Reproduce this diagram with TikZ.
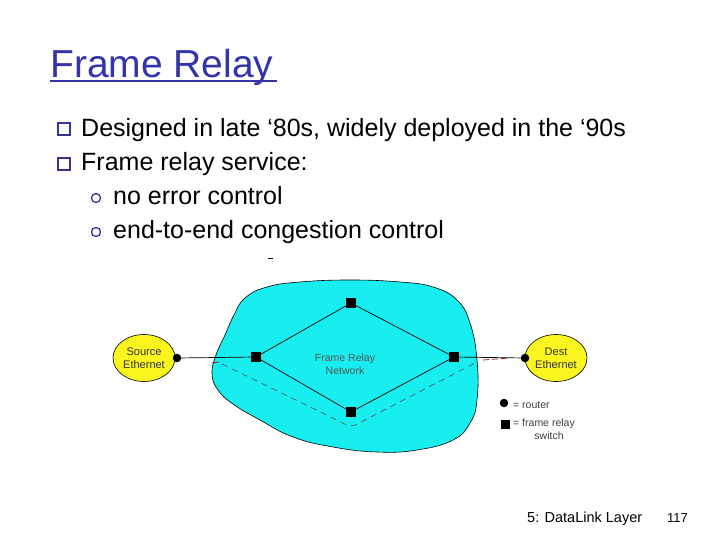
\documentclass[tikz,border=0pt]{standalone}
\usepackage{fontspec}
\setmainfont{Liberation Sans}
\usetikzlibrary{shapes.geometric}
\definecolor{titleblue}{RGB}{51,51,170}
\definecolor{bulletblue}{RGB}{51,51,153}
\definecolor{netcyan}{RGB}{24,238,240}
\definecolor{ethyellow}{RGB}{250,245,30}
\definecolor{labelgray}{RGB}{85,85,85}
\definecolor{vcred}{RGB}{150,30,30}
\tikzset{
  slidetext/.style={anchor=base west, inner sep=0pt, font=\fontsize{25}{28}\selectfont},
  sqbullet/.style={draw=bulletblue, line width=2pt, minimum size=12pt, inner sep=0pt},
  circbullet/.style={circle, draw=bulletblue, line width=1.3pt, minimum size=9pt, inner sep=0pt},
  ether/.style={ellipse, draw=black, line width=0.6pt, fill=ethyellow, minimum width=62pt, minimum height=47pt, inner sep=0pt, align=center, text=black!80, font=\fontsize{11}{13}\selectfont},
  router/.style={circle, fill=black, minimum size=8.5pt, inner sep=0pt},
  fswitch/.style={rectangle, fill=black, minimum size=10pt, inner sep=0pt},
  link/.style={draw=black, line width=0.7pt},
  vc/.style={draw=black!70, line width=0.6pt, dash pattern=on 6pt off 5pt},
  legendtext/.style={anchor=west, inner sep=0pt, text=black!75, font=\fontsize{10.5}{12}\selectfont},
}
\begin{document}
\begin{tikzpicture}[x=1pt,y=-1pt]
\useasboundingbox (0,0) rectangle (720,540);
% title
\node[anchor=base west, inner sep=0pt, text=titleblue, font=\fontsize{39}{44}\selectfont] (title) at (50,78) {Frame Relay};
\draw[titleblue, line width=2pt] (50,81) -- (277,81);
% bullets
\node[sqbullet] (b1) at (64,129) {};
\node[slidetext] (t1) at (81,137) {Designed in late ‘80s, widely deployed in the ‘90s};
\node[sqbullet] (b2) at (64,164) {};
\node[slidetext] (t2) at (81,171) {Frame relay service:};
\node[circbullet] (c1) at (96,198) {};
\node[slidetext] (t3) at (113,205) {no error control};
\node[circbullet] (c2) at (96,232) {};
\node[slidetext] (t4) at (113,239) {end-to-end congestion control};
% tiny mark
\draw[black, line width=0.8pt] (268,258) -- (273,258);
% network cloud
\draw[fill=netcyan, draw=black, line width=0.6pt] plot[smooth cycle, tension=0.75] coordinates {
 (245,298) (267,287) (300,282) (350,280) (400,282) (433,287) (457,300) (470,323)
 (477,360) (477,400) (470,423) (453,440) (417,450) (377,452) (333,447) (293,437)
 (260,420) (233,404) (218,390) (212,374) (216,355) (225,335) (234,315)};
\node[align=center, text=labelgray, inner sep=0pt, font=\fontsize{10.5}{13}\selectfont] (netlabel) at (345,364) {Frame Relay\\Network};
% ethernets
\node[ether] (src) at (144,358) {Source\\Ethernet};
\node[ether] (dst) at (556,358) {Dest\\Ethernet};
\node[router] (rsrc) at (177,358) {};
\node[router] (rdst) at (525,358) {};
% switches
\node[fswitch] (sL) at (256,357) {};
\node[fswitch] (sT) at (351,303) {};
\node[fswitch] (sR) at (454,357) {};
\node[fswitch] (sB) at (351,412) {};
% links
\draw[link] (rsrc) -- (sL);
\draw[link] (sL) -- (sT) -- (sR) -- (sB) -- (sL);
\draw[link] (sR) -- (rdst);
% virtual circuit
\coordinate (vA) at (222,364);
\coordinate (vB) at (341,422);
\coordinate (vC) at (361,422);
\coordinate (vD) at (477,362);
\draw[vc] (vA) -- (vB) .. controls (349,427) and (354,427) .. (vC) -- (vD);
\draw[vcred, line width=0.8pt] (212,363) -- (219,362);
\draw[vcred, line width=0.8pt, dash pattern=on 6pt off 3pt] (483,360) -- (509,358);
% legend
\node[router] (lr) at (504,403) {};
\node[legendtext] (lrt) at (513,405) {= router};
\node[fswitch, minimum size=9pt] (ls) at (505,424) {};
\node[legendtext] (lst) at (513,424) {= frame relay};
\node[anchor=center, inner sep=0pt, text=black!75, font=\fontsize{10.5}{12}\selectfont] (lst2) at (549,436) {switch};
% footer
\node[anchor=base west, inner sep=0pt, font=\fontsize{14.5}{16}\selectfont] (foot) at (527,522) {5: DataLink Layer};
\node[anchor=base west, inner sep=0pt, font=\fontsize{13}{16}\selectfont] (page) at (667,522) {117};
\end{tikzpicture}
\end{document}
